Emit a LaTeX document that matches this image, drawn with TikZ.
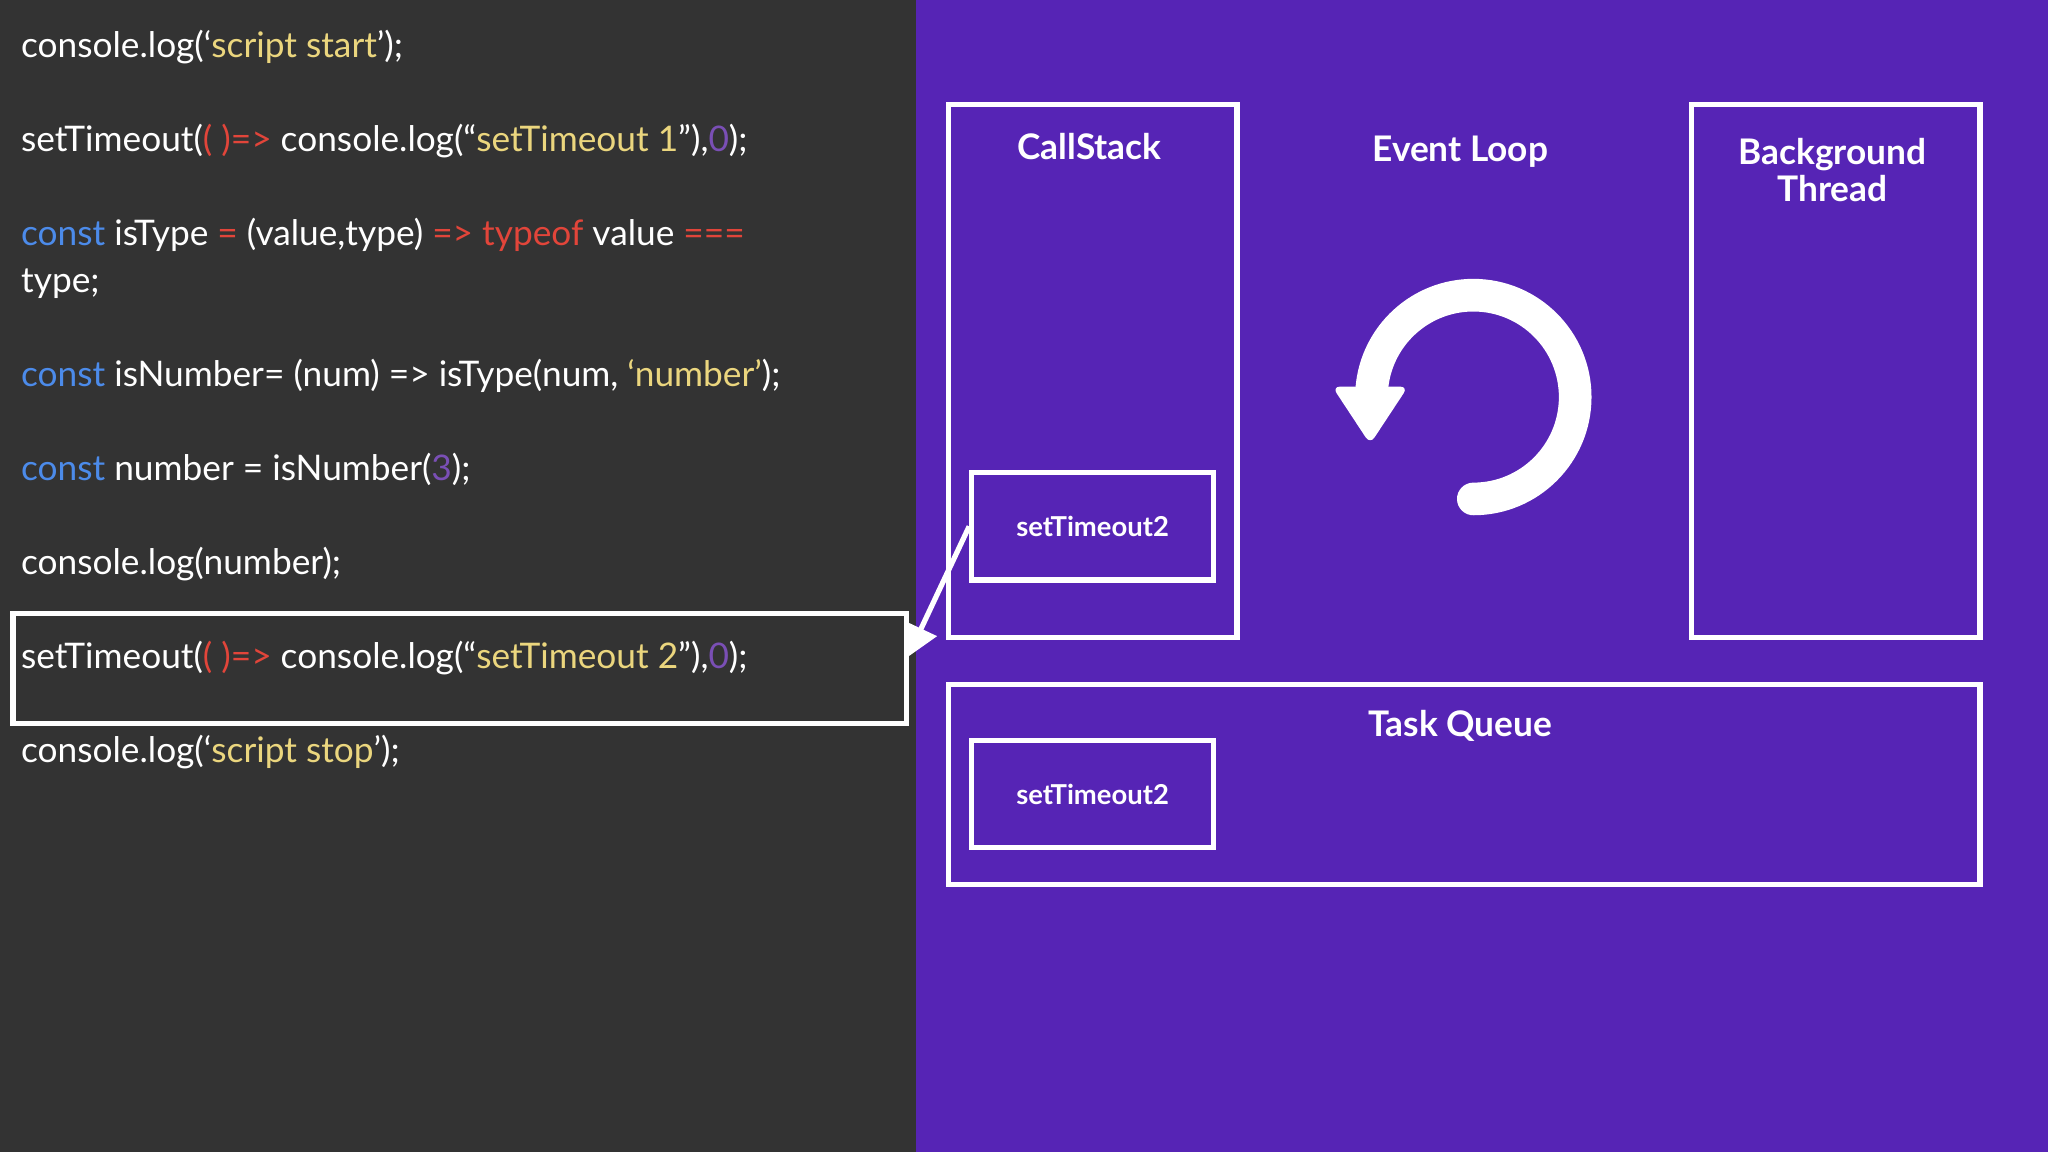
\documentclass[tikz,border=0pt]{standalone}
\usepackage{fontspec}
\setmainfont{Lato}
\usetikzlibrary{arrows.meta}
\definecolor{dark}{HTML}{333333}
\definecolor{purp}{HTML}{5624B5}
\definecolor{cy}{HTML}{EBD67E}
\definecolor{cr}{HTML}{E2453A}
\definecolor{cb}{HTML}{4C8BEA}
\definecolor{cp}{HTML}{7A4FB5}
\tikzset{
 code/.style={anchor=base west,inner sep=0pt,text=white,font=\fontsize{27}{32}\selectfont},
 box/.style={draw=white,line width=4pt},
 head/.style={text=white,font=\fontsize{27}{32}\selectfont\bfseries,align=center},
 inner/.style={text=white,font=\fontsize{21}{25}\selectfont\bfseries},
}
\begin{document}
\begin{tikzpicture}[x=1pt,y=-1pt]
\useasboundingbox (0,0) rectangle (1568,882);
\fill[dark] (0,0) rectangle (701,882);
\fill[purp] (701,0) rectangle (1568,882);
\node[code] (l1) at (16,44) {console.log(‘\textcolor{cy}{script start}’);};
\node[code] (l2) at (16,116) {setTimeout(\textcolor{cr}{( )=>} console.log(“\textcolor{cy}{setTimeout 1}”),\textcolor{cp}{0});};
\node[code] (l3) at (16,188) {\textcolor{cb}{const} isType \textcolor{cr}{=} (value,type) \textcolor{cr}{=>} \textcolor{cr}{typeof} value \textcolor{cr}{===}};
\node[code] (l3b) at (16,224) {type;};
\node[code] (l4) at (16,296) {\textcolor{cb}{const} isNumber= (num) => isType(num, \textcolor{cy}{‘number’});};
\node[code] (l5) at (16,368) {\textcolor{cb}{const} number = isNumber(\textcolor{cp}{3});};
\node[code] (l6) at (16,440) {console.log(number);};
\node[code] (l7) at (16,512) {setTimeout(\textcolor{cr}{( )=>} console.log(“\textcolor{cy}{setTimeout 2}”),\textcolor{cp}{0});};
\node[code] (l8) at (16,584) {console.log(‘\textcolor{cy}{script stop}’);};
\node[box,minimum width=684pt,minimum height=84pt,anchor=north west,inner sep=0pt] (hl) at (8,468) {};
\node[box,minimum width=221pt,minimum height=408pt,anchor=north west,inner sep=0pt] (cs) at (724,78) {};
\node[box,minimum width=221pt,minimum height=408pt,anchor=north west,inner sep=0pt] (bg) at (1293,78) {};
\node[box,minimum width=790pt,minimum height=153pt,anchor=north west,inner sep=0pt] (tq) at (724,522) {};
\node[box,minimum width=185pt,minimum height=82pt,anchor=north west,inner sep=0pt] (cs2) at (742,360) {};
\node[box,minimum width=185pt,minimum height=82pt,anchor=north west,inner sep=0pt] (tq2) at (742,565) {};
\node[inner] at (cs2.center) {setTimeout2};
\node[inner] at (tq2.center) {setTimeout2};
\node[head] (csh) at (834,112) {CallStack};
\node[head] (elh) at (1118,116) {Event Loop};
\node[head] (bgh) at (1403,130) {Background\\[-4pt]Thread};
\node[head] (tqh) at (1118,556) {Task Queue};
\draw[white,line width=4pt,-{Triangle[length=24pt,width=26pt]}] (cs2.west) -- (695,503);
\draw[white,line width=25pt,line cap=round] (1128,382) arc[start angle=90,end angle=-175,radius=78];
\fill[white,rounded corners=6pt] (1020,296) -- (1078,296) -- (1049,340) -- cycle;
\end{tikzpicture}
\end{document}
